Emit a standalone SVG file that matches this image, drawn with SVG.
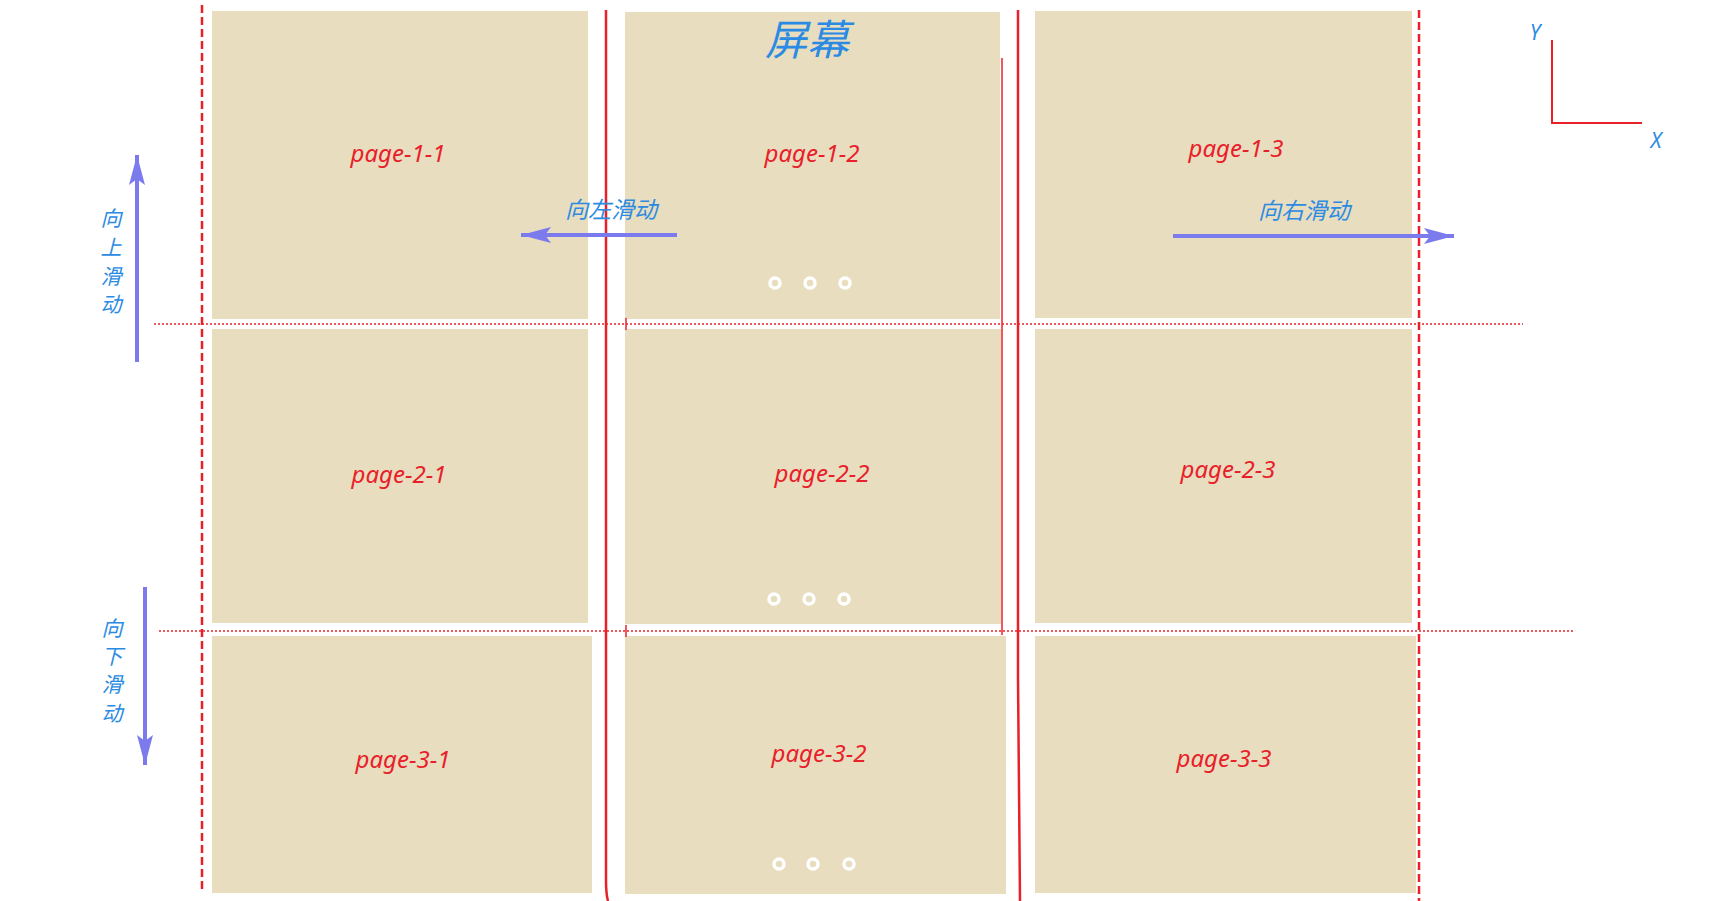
<svg xmlns="http://www.w3.org/2000/svg" width="1715" height="901" viewBox="0 0 1715 901">
<style>
.page{fill:#e8ddbe}
.lbl{font-family:"Noto Sans","Liberation Sans",sans-serif;font-style:italic;font-size:24px;fill:#e8202a;text-anchor:middle}
.cn{font-family:"Noto Sans CJK SC","Noto Sans",sans-serif;font-style:italic;fill:#2b8be3;text-anchor:middle}
.vc{font-family:"Noto Sans CJK SC","Noto Sans",sans-serif;font-style:italic;fill:#2b8be3;text-anchor:middle;font-size:21px}
.ax{font-family:"Noto Sans","Liberation Sans",sans-serif;font-style:italic;font-size:21px;fill:#2b8be3;text-anchor:middle}
.ring{fill:none;stroke:#ffffff;stroke-width:3.5}
.dash{stroke:#e8202a;stroke-width:2.5;stroke-dasharray:8 4;fill:none}
.dot{stroke:#e8202a;stroke-width:1.5;stroke-dasharray:2 2;fill:none}
.solid{stroke:#e8202a;stroke-width:2.5;fill:none}
.thin{stroke:#e8202a;stroke-width:1.5;fill:none}
.arr{stroke:#7b7bee;stroke-width:4;fill:none}
</style>
<defs>
<marker id="ah" viewBox="0 0 30 16" refX="30" refY="8" markerWidth="30" markerHeight="16" markerUnits="userSpaceOnUse" orient="auto">
<path d="M0,0 L30,8 L0,16 L6,8 Z" fill="#7b7bee"/>
</marker>
</defs>
<rect width="1715" height="901" fill="#ffffff"/>
<g id="page-1-1"><rect class="page" x="212" y="11" width="376" height="308"/><text class="lbl" x="398" y="162">page-1-1</text></g>
<g id="page-1-2"><rect class="page" x="625" y="12" width="375" height="307"/><text class="lbl" x="812" y="162">page-1-2</text>
<circle class="ring" cx="775" cy="283" r="5"/><circle class="ring" cx="810" cy="283" r="5"/><circle class="ring" cx="845" cy="283" r="5"/></g>
<g id="page-1-3"><rect class="page" x="1035" y="11" width="377" height="307"/><text class="lbl" x="1236" y="157">page-1-3</text></g>
<g id="page-2-1"><rect class="page" x="212" y="329" width="376" height="294"/><text class="lbl" x="399" y="483">page-2-1</text></g>
<g id="page-2-2"><rect class="page" x="625" y="329" width="376" height="295"/><text class="lbl" x="822" y="482">page-2-2</text>
<circle class="ring" cx="774" cy="599" r="5"/><circle class="ring" cx="809" cy="599" r="5"/><circle class="ring" cx="844" cy="599" r="5"/></g>
<g id="page-2-3"><rect class="page" x="1035" y="329" width="377" height="294"/><text class="lbl" x="1228" y="478">page-2-3</text></g>
<g id="page-3-1"><rect class="page" x="212" y="636" width="380" height="257"/><text class="lbl" x="403" y="768">page-3-1</text></g>
<g id="page-3-2"><rect class="page" x="625" y="636" width="381" height="258"/><text class="lbl" x="819" y="762">page-3-2</text>
<circle class="ring" cx="779" cy="864" r="5"/><circle class="ring" cx="813" cy="864" r="5"/><circle class="ring" cx="849" cy="864" r="5"/></g>
<g id="page-3-3"><rect class="page" x="1035" y="636" width="381" height="257"/><text class="lbl" x="1224" y="767">page-3-3</text></g>
<g id="screen-title"><text class="cn" x="807" y="55" font-size="42">屏幕</text></g>
<g id="guides">
<line class="dash" x1="202" y1="5" x2="202" y2="893"/>
<line class="dash" x1="1419" y1="10" x2="1419" y2="901"/>
<path class="solid" d="M606,10 L606,880 Q606,894 608,901"/>
<path class="solid" d="M1018,10 L1018,677 L1020,901"/>
<line class="thin" x1="1002" y1="58" x2="1002" y2="635"/>
<line class="dot" x1="154" y1="324" x2="1523" y2="324"/>
<line class="dot" x1="159" y1="631" x2="1573" y2="631"/>
<line class="thin" x1="626" y1="318" x2="626" y2="330"/>
<line class="thin" x1="626" y1="625" x2="626" y2="637"/>
</g>
<g id="connectors">
<line class="arr" x1="677" y1="235" x2="521" y2="235" marker-end="url(#ah)"/>
<line class="arr" x1="1173" y1="236" x2="1454" y2="236" marker-end="url(#ah)"/>
<line class="arr" x1="137" y1="362" x2="137" y2="155" marker-end="url(#ah)"/>
<line class="arr" x1="145" y1="587" x2="145" y2="765" marker-end="url(#ah)"/>
</g>
<g id="labels">
<text class="cn" x="611" y="218" font-size="23">向左滑动</text>
<text class="cn" x="1304" y="219" font-size="23">向右滑动</text>
<text class="vc" x="111" y="226">向</text>
<text class="vc" x="111" y="255">上</text>
<text class="vc" x="111" y="284">滑</text>
<text class="vc" x="111" y="312">动</text>
<text class="vc" x="112" y="636">向</text>
<text class="vc" x="112" y="664">下</text>
<text class="vc" x="112" y="692">滑</text>
<text class="vc" x="112" y="721">动</text>
</g>
<g id="axes">
<path d="M1552,40 L1552,123 L1642,123" stroke="#e8202a" stroke-width="2" fill="none"/>
<text class="ax" x="1535" y="40">Y</text>
<text class="ax" x="1656" y="148">X</text>
</g>
</svg>
